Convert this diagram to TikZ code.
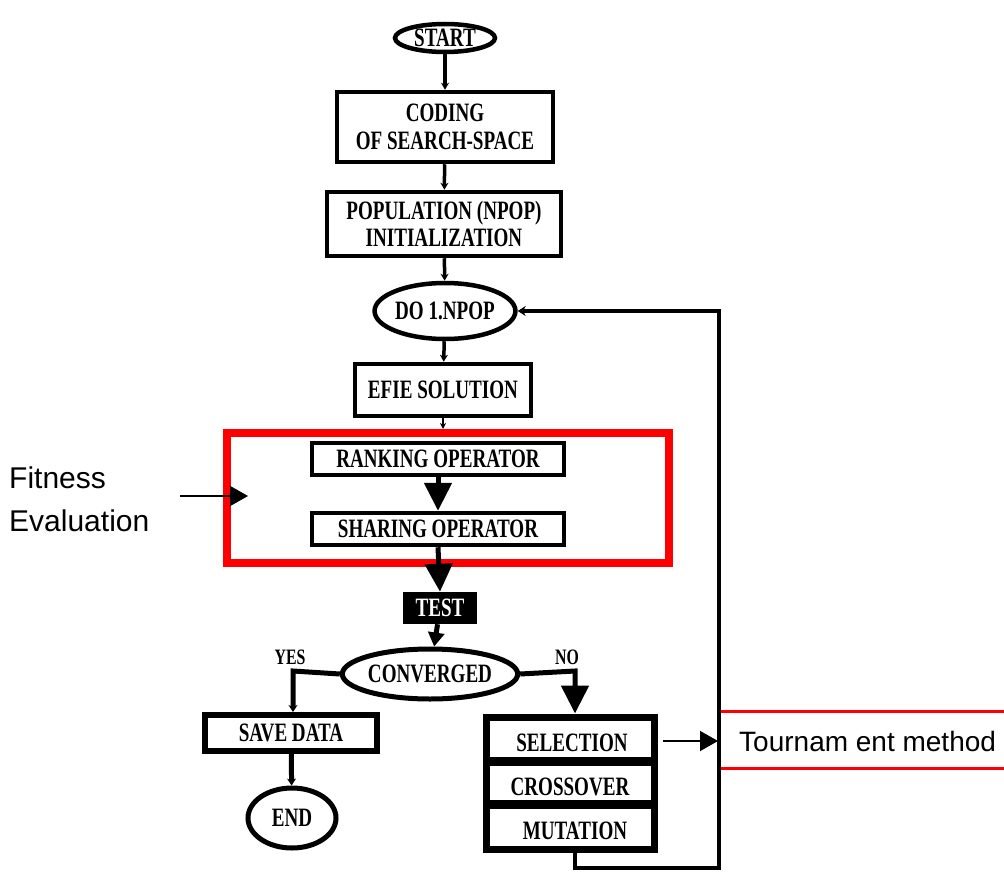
\documentclass[tikz,border=0pt]{standalone}
\usepackage{fontspec}
\usetikzlibrary{shapes.geometric,arrows.meta}
\newfontfamily\tbf[FakeStretch=0.72]{Liberation Serif}
\newfontfamily\asans{Liberation Sans}
\definecolor{redbox}{RGB}{255,0,0}
\begin{document}
\begin{tikzpicture}[x=1pt,y=-1pt,
  lbl/.style={font=\tbf\bfseries\fontsize{26.5}{27.5}\selectfont, align=center, inner sep=0pt},
  box/.style={lbl, draw, rectangle, line width=4.5pt},
  term/.style={lbl, draw, ellipse, line width=4.5pt, inner sep=0pt},
  thinarr/.style={line width=3.5pt, -{Stealth[length=7pt,width=8pt]}},
  bigarr/.style={line width=5pt, -{Triangle[length=28pt,width=27pt]}},
  sidearr/.style={line width=1.5pt, -{Triangle[length=18pt,width=20pt]}},
  yn/.style={font=\tbf\bfseries\fontsize{22}{22}\selectfont, inner sep=0pt}]
\useasboundingbox (0,0) rectangle (1004,872);

% main column
\node[term, minimum width=100pt, minimum height=28pt] (start) at (445,38) {START};
\node[box, minimum width=216pt, minimum height=70pt] (coding) at (445,127) {CODING\\OF SEARCH-SPACE};
\node[box, minimum width=234pt, minimum height=64pt] (pop) at (444,224) {POPULATION (NPOP)\\INITIALIZATION};
\node[term, minimum width=116pt, minimum height=56pt] (do) at (445,311) {DO 1.NPOP};
\node[box, minimum width=176pt, minimum height=52pt] (efie) at (443,390) {EFIE SOLUTION};

% fitness evaluation frame
\node[draw=redbox, line width=8pt, rectangle, minimum width=442pt, minimum height=130pt, inner sep=0pt] (fit) at (448,498) {};
\node[box, minimum width=252pt, minimum height=32pt] (rank) at (438,459) {RANKING OPERATOR};
\node[box, minimum width=252pt, minimum height=32pt] (share) at (438,529) {SHARING OPERATOR};

\node[box, fill=black, text=white, minimum width=70pt, minimum height=28pt] (test) at (440,608) {TEST};
\node[term, line width=5pt, minimum width=146pt, minimum height=50pt] (conv) at (430,674) {CONVERGED};

\node[box, line width=6pt, minimum width=172pt, minimum height=36pt] (save) at (291,733) {SAVE DATA};
\node[term, line width=5pt, minimum width=88pt, minimum height=60pt] (end) at (292,818) {END};

% operators group
\node[draw, line width=7pt, rectangle, minimum width=168pt, minimum height=132pt, inner sep=0pt] (grp) at (570,783) {};
\coordinate (d1l) at (486,761); \coordinate (d1r) at (654,761);
\coordinate (d2l) at (486,804); \coordinate (d2r) at (654,804);
\draw[line width=9pt] (d1l) -- (d1r);
\draw[line width=9pt] (d2l) -- (d2r);
\node[lbl] (sel) at (572,743) {SELECTION};
\node[lbl] (cross) at (570,787) {CROSSOVER};
\node[lbl] (mut) at (575,831) {MUTATION};

% side labels
\node[draw=redbox, line width=2.5pt, rectangle, minimum width=300pt, minimum height=57pt, anchor=west, inner sep=0pt] (tour) at (718,740) {};
\node[font=\asans\fontsize{28}{30}\selectfont, anchor=west, inner sep=0pt] (tourtxt) at (739,741) {Tournam ent method};
\node[font=\asans\fontsize{30}{43}\selectfont, align=left, anchor=west, inner sep=0pt] (fitlbl) at (9,499) {Fitness\\Evaluation};

\node[yn] (yes) at (290,657) {YES};
\node[yn] (no) at (567,657) {NO};

% connectors
\draw[thinarr] (start) -- (coding);
\draw[thinarr] (coding) -- (pop);
\draw[thinarr] (pop) -- (do);
\draw[thinarr] (do) -- (efie);
\draw[line width=1.5pt, -{Stealth[length=6pt,width=6pt]}] (efie.south) -- (efie.south |- fit.north);
\draw[bigarr] (rank) -- (share);
\draw[bigarr] (share.south) -- (test.north);
\draw[line width=5pt, -{Triangle[length=14pt,width=16pt]}] (test) -- (conv);
\coordinate (yc) at (293,671);
\draw[line width=5pt, -{Stealth[length=7pt,width=9pt]}] (conv.west) -- (yc) -- (save.north -| yc);
\draw[line width=5pt, -{Stealth[length=7pt,width=9pt]}] (save) -- (end);
\coordinate (nc) at (575,671);
\draw[line width=5pt, -{Triangle[length=28pt,width=27pt]}] (conv.east) -- (nc) -- (grp.north -| nc);
\coordinate (fb1) at (575,868);
\coordinate (fb2) at (719,868);
\coordinate (fb3) at (719,311);
\draw[line width=4pt, -{Stealth[length=8pt,width=10pt]}] (grp.south -| fb1) -- (fb1) -- (fb2) -- (fb3) -- (do.east);
\coordinate (ts) at (663,741);
\draw[sidearr] (ts) -- (tour.west |- ts);
\coordinate (fs) at (180,496);
\coordinate (fe) at (248,496);
\draw[sidearr] (fs) -- (fe);
\end{tikzpicture}
\end{document}
